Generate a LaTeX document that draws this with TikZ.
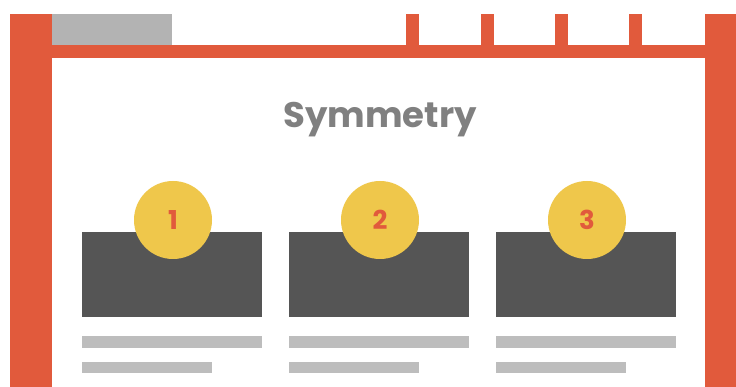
\documentclass[tikz,border=0pt]{standalone}
\usepackage{fontspec}
\setmainfont{Poppins}
\definecolor{frameorange}{HTML}{E15A3C}
\definecolor{tabgray}{HTML}{B3B3B3}
\definecolor{cardgray}{HTML}{555555}
\definecolor{linegray}{HTML}{BDBDBD}
\definecolor{badgeyellow}{HTML}{EFC74B}
\definecolor{titlegray}{HTML}{808080}
\begin{document}
\begin{tikzpicture}[x=1pt,y=-1pt,
  framebar/.style={fill=frameorange,draw=none},
  card/.style={fill=cardgray,draw=none},
  textline/.style={fill=linegray,draw=none},
  badge/.style={circle,fill=badgeyellow,draw=none,minimum size=78pt,inner sep=0pt,
    text=frameorange,font=\bfseries\fontsize{26}{26}\selectfont}]
\useasboundingbox[fill=white] (0,0) rectangle (736,387);
% window frame
\fill[tabgray] (52,14) rectangle (172,45);
\fill[framebar] (10,14) rectangle (52,387);
\fill[framebar] (705,14) rectangle (736,387);
\fill[framebar] (52,45) rectangle (705,58);
\foreach \x in {406,481,555,629}
  \fill[framebar] (\x,14) rectangle (\x+13,45);
% heading
\node[anchor=base,inner sep=0pt,text=titlegray,font=\bfseries\fontsize{35.5}{36}\selectfont] (title) at (380,128) {Symmetry};
% three cards with numbered badges and text lines
\foreach \i/\x in {1/82,2/289,3/496}{
  \fill[card] (\x,232) rectangle (\x+180,317);
  \node[badge] (badge\i) at (\x+91,220) {\i};
  \fill[textline] (\x,336) rectangle (\x+180,348);
  \fill[textline] (\x,362) rectangle (\x+130,373);
}
\end{tikzpicture}
\end{document}
